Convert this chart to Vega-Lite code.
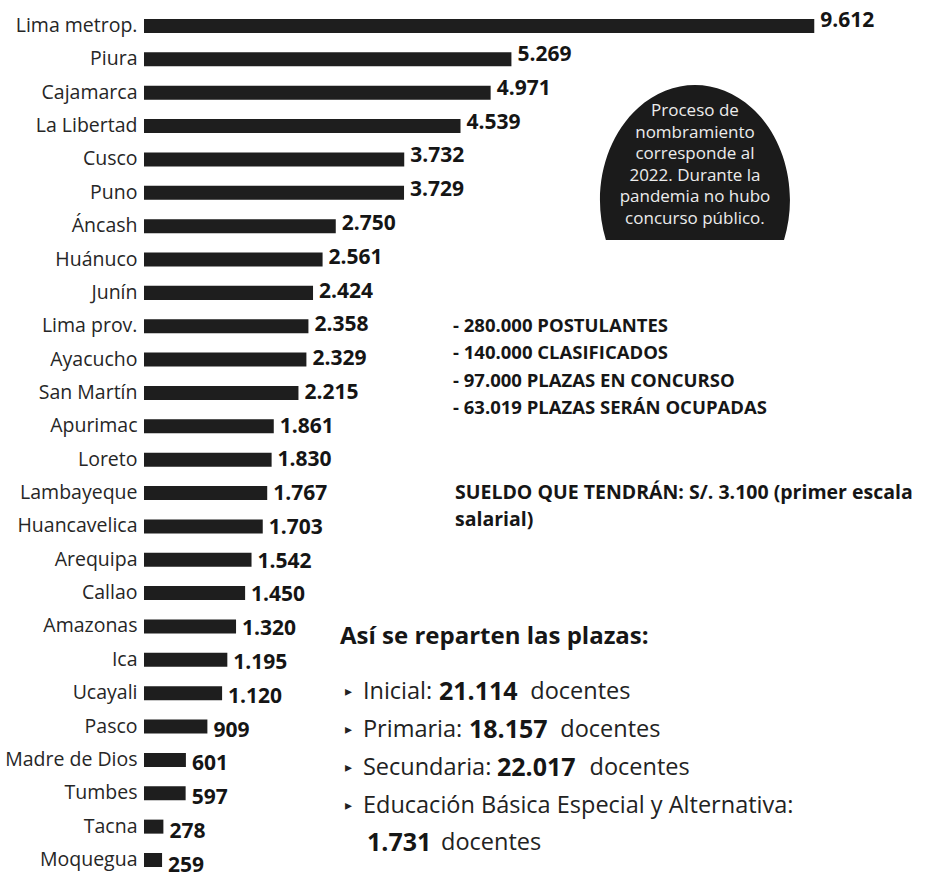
{
  "$schema": "https://vega.github.io/schema/vega-lite/v6.json",
  "width": 781,
  "height": 878,
  "autosize": {"type": "none"},
  "padding": {"left": 144, "top": 0, "right": 0, "bottom": 0},
  "background": "white",
  "config": {
    "view": {"stroke": null},
    "font": "Open Sans",
    "locale": {"number": {"decimal": ",", "thousands": ".", "grouping": [3], "currency": ["", ""]}}
  },
  "datasets": {
    "regions": [
      {"region": "Lima metrop.", "docentes": 9612},
      {"region": "Piura", "docentes": 5269},
      {"region": "Cajamarca", "docentes": 4971},
      {"region": "La Libertad", "docentes": 4539},
      {"region": "Cusco", "docentes": 3732},
      {"region": "Puno", "docentes": 3729},
      {"region": "Áncash", "docentes": 2750},
      {"region": "Huánuco", "docentes": 2561},
      {"region": "Junín", "docentes": 2424},
      {"region": "Lima prov.", "docentes": 2358},
      {"region": "Ayacucho", "docentes": 2329},
      {"region": "San Martín", "docentes": 2215},
      {"region": "Apurimac", "docentes": 1861},
      {"region": "Loreto", "docentes": 1830},
      {"region": "Lambayeque", "docentes": 1767},
      {"region": "Huancavelica", "docentes": 1703},
      {"region": "Arequipa", "docentes": 1542},
      {"region": "Callao", "docentes": 1450},
      {"region": "Amazonas", "docentes": 1320},
      {"region": "Ica", "docentes": 1195},
      {"region": "Ucayali", "docentes": 1120},
      {"region": "Pasco", "docentes": 909},
      {"region": "Madre de Dios", "docentes": 601},
      {"region": "Tumbes", "docentes": 597},
      {"region": "Tacna", "docentes": 278},
      {"region": "Moquegua", "docentes": 259}
    ],
    "circle": [{"val": 7901, "pos": 5.216}],
    "circleText": [{"val": 7901, "pos": 2.548, "lines": ["Proceso de", "nombramiento", "corresponde al", "2022. Durante la", "pandemia no hubo", "concurso público."]}],
    "stats": [
      {"val": 4431, "pos": 8.993, "lines": ["- 280.000 POSTULANTES", "- 140.000 CLASIFICADOS", "- 97.000 PLAZAS EN CONCURSO", "- 63.019 PLAZAS SERÁN OCUPADAS"]}
    ],
    "sueldo": [
      {"val": 4460, "pos": 13.999, "lines": ["SUELDO QUE TENDRÁN: S/. 3.100 (primer escala", "salarial)"]}
    ],
    "heading": [{"val": 2811, "pos": 18.315, "text": "Así se reparten las plazas:"}],
    "bullets": [
      {"val": 2882, "pos": 19.964, "text": "▸"},
      {"val": 2882, "pos": 21.103, "text": "▸"},
      {"val": 2882, "pos": 22.242, "text": "▸"},
      {"val": 2882, "pos": 23.381, "text": "▸"}
    ],
    "plain": [
      {"val": 3140, "pos": 19.964, "text": "Inicial:"},
      {"val": 5540, "pos": 19.964, "text": "docentes"},
      {"val": 3140, "pos": 21.103, "text": "Primaria:"},
      {"val": 5970, "pos": 21.103, "text": "docentes"},
      {"val": 3140, "pos": 22.242, "text": "Secundaria:"},
      {"val": 6390, "pos": 22.242, "text": "docentes"},
      {"val": 3140, "pos": 23.381, "text": "Educación Básica Especial y Alternativa:"},
      {"val": 4260, "pos": 24.490, "text": "docentes"}
    ],
    "boldNums": [
      {"val": 4230, "pos": 19.964, "text": "21.114"},
      {"val": 4661, "pos": 21.103, "text": "18.157"},
      {"val": 5062, "pos": 22.242, "text": "22.017"},
      {"val": 3198, "pos": 24.490, "text": "1.731"}
    ]
  },
  "layer": [
    {
      "data": {"name": "regions"},
      "mark": {"type": "bar", "color": "#1e1e1e"},
      "encoding": {
        "y": {"field": "region", "type": "nominal", "sort": null,
          "scale": {"paddingInner": 0.58, "paddingOuter": 0.4496, "align": 0.633},
          "axis": {"title": null, "domain": false, "ticks": false, "labelPadding": 7, "labelFontSize": 19.5, "labelFont": "Open Sans", "labelColor": "#262626", "labelLimit": 300}},
        "x": {"field": "docentes", "type": "quantitative", "scale": {"domain": [0, 11200], "nice": false}, "axis": null}
      }
    },
    {
      "data": {"name": "regions"},
      "mark": {"type": "text", "align": "left", "baseline": "middle", "dx": 6, "font": "Open Sans", "fontWeight": "bold", "fontSize": 21, "color": "#151515"},
      "encoding": {
        "y": {"field": "region", "type": "nominal", "sort": null,
          "scale": {"paddingInner": 0.58, "paddingOuter": 0.4496, "align": 0.633}, "axis": null},
        "x": {"field": "docentes", "type": "quantitative", "scale": {"domain": [0, 11200], "nice": false}, "axis": null},
        "text": {"field": "docentes", "type": "quantitative", "format": ","}
      }
    },
    {
      "data": {"name": "circle"},
      "mark": {"type": "point", "shape": "M -0.9375 0.421 A 1 1.2105 0 1 1 0.9375 0.421 Z", "size": 36100, "filled": true, "fill": "#1b1b1b", "opacity": 1, "strokeWidth": 0},
      "encoding": {
        "x": {"field": "val", "type": "quantitative", "scale": {"domain": [0, 11200], "nice": false}, "axis": null},
        "y": {"field": "pos", "type": "quantitative", "scale": {"domain": [-0.7794, 25.540], "reverse": true, "nice": false, "zero": false}, "axis": null}
      }
    },
    {
      "data": {"name": "circleText"},
      "mark": {"type": "text", "align": "center", "baseline": "middle", "lineHeight": 21.5, "font": "Open Sans", "fontSize": 17, "color": "#ececec"},
      "encoding": {
        "x": {"field": "val", "type": "quantitative", "scale": {"domain": [0, 11200], "nice": false}, "axis": null},
        "y": {"field": "pos", "type": "quantitative", "scale": {"domain": [-0.7794, 25.540], "reverse": true, "nice": false, "zero": false}, "axis": null},
        "text": {"field": "lines"}
      }
    },
    {
      "data": {"name": "stats"},
      "mark": {"type": "text", "align": "left", "baseline": "middle", "lineHeight": 27.3, "font": "Open Sans", "fontWeight": "bold", "fontSize": 18.5, "color": "#161616"},
      "encoding": {
        "x": {"field": "val", "type": "quantitative", "scale": {"domain": [0, 11200], "nice": false}, "axis": null},
        "y": {"field": "pos", "type": "quantitative", "scale": {"domain": [-0.7794, 25.540], "reverse": true, "nice": false, "zero": false}, "axis": null},
        "text": {"field": "lines"}
      }
    },
    {
      "data": {"name": "sueldo"},
      "mark": {"type": "text", "align": "left", "baseline": "middle", "lineHeight": 27.3, "font": "Open Sans", "fontWeight": "bold", "fontSize": 19.5, "color": "#161616"},
      "encoding": {
        "x": {"field": "val", "type": "quantitative", "scale": {"domain": [0, 11200], "nice": false}, "axis": null},
        "y": {"field": "pos", "type": "quantitative", "scale": {"domain": [-0.7794, 25.540], "reverse": true, "nice": false, "zero": false}, "axis": null},
        "text": {"field": "lines"}
      }
    },
    {
      "data": {"name": "heading"},
      "mark": {"type": "text", "align": "left", "baseline": "middle", "font": "Open Sans", "fontWeight": "bold", "fontSize": 24, "color": "#161616"},
      "encoding": {
        "x": {"field": "val", "type": "quantitative", "scale": {"domain": [0, 11200], "nice": false}, "axis": null},
        "y": {"field": "pos", "type": "quantitative", "scale": {"domain": [-0.7794, 25.540], "reverse": true, "nice": false, "zero": false}, "axis": null},
        "text": {"field": "text"}
      }
    },
    {
      "data": {"name": "bullets"},
      "mark": {"type": "text", "align": "left", "baseline": "middle", "font": "DejaVu Sans", "fontSize": 14, "color": "#222222"},
      "encoding": {
        "x": {"field": "val", "type": "quantitative", "scale": {"domain": [0, 11200], "nice": false}, "axis": null},
        "y": {"field": "pos", "type": "quantitative", "scale": {"domain": [-0.7794, 25.540], "reverse": true, "nice": false, "zero": false}, "axis": null},
        "text": {"field": "text"}
      }
    },
    {
      "data": {"name": "plain"},
      "mark": {"type": "text", "align": "left", "baseline": "middle", "font": "Open Sans", "fontSize": 23.5, "color": "#222222"},
      "encoding": {
        "x": {"field": "val", "type": "quantitative", "scale": {"domain": [0, 11200], "nice": false}, "axis": null},
        "y": {"field": "pos", "type": "quantitative", "scale": {"domain": [-0.7794, 25.540], "reverse": true, "nice": false, "zero": false}, "axis": null},
        "text": {"field": "text"}
      }
    },
    {
      "data": {"name": "boldNums"},
      "mark": {"type": "text", "align": "left", "baseline": "middle", "font": "Open Sans", "fontWeight": "bold", "fontSize": 25, "color": "#161616"},
      "encoding": {
        "x": {"field": "val", "type": "quantitative", "scale": {"domain": [0, 11200], "nice": false}, "axis": null},
        "y": {"field": "pos", "type": "quantitative", "scale": {"domain": [-0.7794, 25.540], "reverse": true, "nice": false, "zero": false}, "axis": null},
        "text": {"field": "text"}
      }
    }
  ],
  "resolve": {"scale": {"y": "independent"}}
}
